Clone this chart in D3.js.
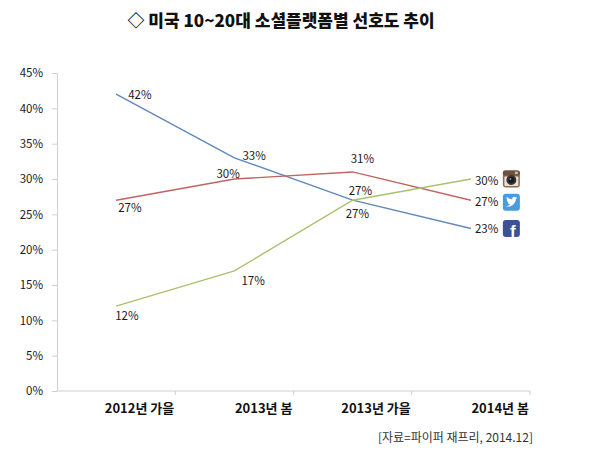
<!DOCTYPE html>
<html>
<head>
<meta charset="utf-8">
<script src="https://cdn.jsdelivr.net/npm/d3@7"></script>
<style>
  body { margin: 0; background: #fff; }
  svg { display: block; font-family: "Noto Sans CJK KR", "Noto Sans", sans-serif; }
</style>
</head>
<body>
<svg id="chart" width="612" height="450"></svg>
<script>
// 데이터
const periods = ["2012년 가을", "2013년 봄", "2013년 가을", "2014년 봄"];
const facebook = [42, 33, 27, 23];
const twitter = [27, 30, 31, 27];
const instagram = [12, 17, 27, 30];
const yTicks = [0, 5, 10, 15, 20, 25, 30, 35, 40, 45];

const svg = d3.select("#chart");

// 제목
svg.append("text")
    .attr("x", 281)
    .attr("y", 27)
    .attr("text-anchor", "middle")
    .attr("font-size", 17)
    .attr("font-weight", 900)
    .attr("fill", "#111")
    .text("◇ 미국 10~20대 소셜플랫폼별 선호도 추이");

// 스케일
const x = d3.scaleBand().domain(periods).range([57, 530]).padding(0);
const y = d3.scaleLinear().domain([0, 45]).range([391, 73]);
const cx = d => x(d) + x.bandwidth() / 2;

// Y축
const yAxis = svg.append("g")
    .attr("transform", "translate(57,0)")
    .call(d3.axisLeft(y).tickValues(yTicks).tickFormat(d => d + "%").tickSize(5).tickPadding(9).tickSizeOuter(0));
yAxis.select(".domain").attr("stroke", "#d0d0d0");
yAxis.selectAll(".tick line").attr("stroke", "#d0d0d0");
yAxis.selectAll("text").attr("font-size", 11.5).attr("fill", "#1a1a1a")
    .attr("font-family", "'Noto Sans CJK KR', sans-serif");

// X축 (눈금은 구간 경계)
const xAxis = svg.append("g");
xAxis.append("line")
    .attr("x1", x.range()[0]).attr("x2", x.range()[1])
    .attr("y1", y(0)).attr("y2", y(0))
    .attr("stroke", "#d0d0d0");
xAxis.selectAll(".xtick")
    .data(periods)
    .enter().append("line")
    .attr("x1", d => x(d) + x.bandwidth())
    .attr("x2", d => x(d) + x.bandwidth())
    .attr("y1", y(0)).attr("y2", y(0) + 4)
    .attr("stroke", "#d0d0d0");
xAxis.selectAll(".xlabel")
    .data(periods)
    .enter().append("text")
    .attr("x", d => x(d) + x.bandwidth() - 1)
    .attr("y", y(0) + 22)
    .attr("text-anchor", "end")
    .attr("font-size", 13)
    .attr("font-weight", "bold")
    .attr("fill", "#111")
    .text(d => d);

// 시리즈
const series = [
    {name: "facebook", values: facebook, color: "#6088bb",
     offsets: [[12, 0], [8, -3], [-7, 13], [4, 0]]},
    {name: "twitter", values: twitter, color: "#c06462",
     offsets: [[2, 7], [-18, -6], [-2, -14], [4, 1]]},
    {name: "instagram", values: instagram, color: "#a9c26e",
     offsets: [[-1, 9], [7, 9], [-4, -10], [4, 1]]}
];

const line = d3.line()
    .x((d, i) => cx(periods[i]))
    .y(d => y(d));

series.forEach(s => {
    svg.append("path")
        .attr("d", line(s.values))
        .attr("fill", "none")
        .attr("stroke", s.color)
        .attr("stroke-width", 1.4);

    svg.selectAll(".lbl-" + s.name)
        .data(s.values)
        .enter().append("text")
        .attr("x", (d, i) => cx(periods[i]) + s.offsets[i][0])
        .attr("y", (d, i) => y(d) + s.offsets[i][1])
        .attr("dominant-baseline", "central")
        .attr("font-size", 11.5)
        .attr("fill", "#1a1a1a")
        .text(d => d + "%");
});

// 아이콘
const last = periods.length - 1;
const iconX = cx(periods[last]) + 32;
const iconSize = 17;

// 인스타그램
const ig = svg.append("g")
    .attr("transform", `translate(${iconX},${y(instagram[last]) - iconSize / 2})`);
ig.append("rect").attr("width", iconSize).attr("height", iconSize).attr("rx", 3).attr("fill", "#8b6b50");
ig.append("rect").attr("width", iconSize).attr("height", 5).attr("rx", 2).attr("fill", "#6e513b");
ig.append("rect").attr("x", 1.5).attr("y", 6).attr("width", iconSize - 3).attr("height", 9.5).attr("rx", 1).attr("fill", "#e9e0d2");
ig.append("circle").attr("cx", 8.5).attr("cy", 9.5).attr("r", 5).attr("fill", "#3a3330");
ig.append("circle").attr("cx", 8.5).attr("cy", 9.5).attr("r", 3).attr("fill", "#1a1a1e");
ig.append("circle").attr("cx", 7.5).attr("cy", 8.5).attr("r", 1).attr("fill", "#8a95a8");
ig.append("rect").attr("x", 12).attr("y", 1.2).attr("width", 3).attr("height", 2.4).attr("fill", "#c9bfae");

// 트위터
const tw = svg.append("g")
    .attr("transform", `translate(${iconX},${y(twitter[last]) + 2 - iconSize / 2})`);
tw.append("rect").attr("width", iconSize).attr("height", iconSize).attr("rx", 3).attr("fill", "#4a9ce0");
tw.append("path")
    .attr("d", "M3,12.5 C6,13.5 9.5,12.5 11.5,9.5 C12.5,8 13,6.5 13,5.3 L14.5,4.2 L13.2,4.4 L14.2,3 L12.7,3.6 C11.6,2.5 9.4,3.1 9.4,5 L9.4,5.6 C7.3,5.5 5.4,4.5 4,3 C3.3,4.5 4,6 5,6.6 L4,6.4 C4,7.8 5,8.7 6,9 L5,9 C5.4,10 6.3,10.6 7.3,10.7 C6,11.8 4.5,12.4 3,12.5 Z")
    .attr("fill", "#fff");

// 페이스북
const fb = svg.append("g")
    .attr("transform", `translate(${iconX},${y(facebook[last]) - iconSize / 2})`);
fb.append("rect").attr("width", iconSize).attr("height", iconSize).attr("rx", 3).attr("fill", "#3b5295");
fb.append("text")
    .attr("x", 10).attr("y", 17)
    .attr("text-anchor", "middle")
    .attr("font-family", "'Liberation Sans', Arial, sans-serif")
    .attr("font-weight", "bold")
    .attr("font-size", 17)
    .attr("fill", "#fff")
    .text("f");

// 출처
svg.append("text")
    .attr("x", 533)
    .attr("y", 442)
    .attr("text-anchor", "end")
    .attr("font-size", 12)
    .attr("fill", "#333")
    .text("[자료=파이퍼 재프리, 2014.12]");
</script>
</body>
</html>
